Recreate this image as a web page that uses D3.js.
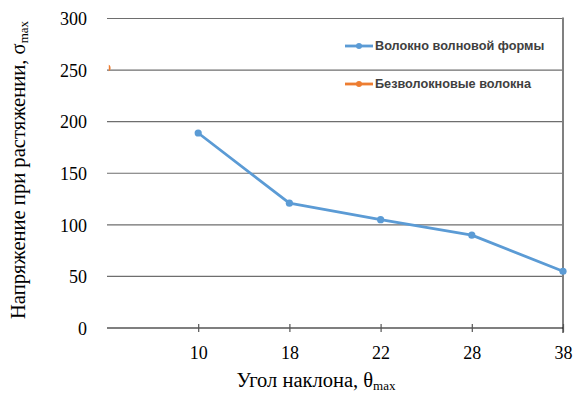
<!DOCTYPE html>
<html><head><meta charset="utf-8">
<script src="https://cdn.jsdelivr.net/npm/d3@7"></script>
<style>body{margin:0;background:#fff}svg{display:block}</style>
</head><body>
<svg id="c" width="580" height="394"></svg>
<script>
const categories = ["", "10", "18", "22", "28", "38"];
const seriesNames = ["Волокно волновой формы", "Безволокновые волокна"];
const wavyFiber = [null, 189, 121, 105, 90, 55];
const noFiber = [252, null, null, null, null, null];
const yTicks = [0, 50, 100, 150, 200, 250, 300];
const colors = ["#5B9BD5", "#ED7D31"];

const svg = d3.select("#c");
const L = 107, R = 563, T = 18.5, B = 328;
const x = d3.scalePoint().domain(categories).range([L, R]);
const y = d3.scaleLinear().domain([0, 300]).range([B, T]);

// gridlines
svg.append("g").selectAll("line").data(yTicks.filter(d => d > 0)).join("line")
  .attr("x1", L).attr("x2", R).attr("y1", d => y(d)).attr("y2", d => y(d))
  .attr("stroke", "#6e6e6e").attr("stroke-width", 1.2);
// right border
svg.append("line").attr("x1", R).attr("x2", R).attr("y1", T - 1).attr("y2", B + 5)
  .attr("stroke", "#808080").attr("stroke-width", 2);

// y axis labels
const yAxis = d3.axisLeft(y).tickValues(yTicks).tickSize(0).tickPadding(0);
const gy = svg.append("g").attr("transform", `translate(${L - 20},0)`).call(yAxis);
gy.select(".domain").remove();
gy.selectAll("text").attr("font-family", "Liberation Serif, Times New Roman, serif")
  .attr("font-size", 18).attr("fill", "#000").attr("dy", "0.35em");

// x axis
const xAxis = d3.axisBottom(x).tickValues(categories.slice(1)).tickSizeInner(4).tickSizeOuter(0).tickPadding(14);
const gx = svg.append("g").attr("transform", `translate(0,${B})`).call(xAxis);
gx.select(".domain").attr("stroke", "#000").attr("stroke-width", 1.2).attr("d", `M${L},0H${R}`);
gx.selectAll(".tick line").attr("y1", -4).attr("y2", 4).attr("stroke", "#555").attr("stroke-width", 1.2);
gx.selectAll("text").attr("font-family", "Liberation Serif, Times New Roman, serif")
  .attr("font-size", 18).attr("fill", "#000");

// clip
svg.append("clipPath").attr("id", "pc").append("rect")
  .attr("x", L + 1.8).attr("y", 0).attr("width", R - L + 6).attr("height", B + 6);

const plot = svg.append("g").attr("clip-path", "url(#pc)");
[wavyFiber, noFiber].forEach((vals, i) => {
  const pts = categories.map((c, j) => ({c, v: vals[j]})).filter(d => d.v != null);
  plot.append("path").datum(pts)
    .attr("d", d3.line().x(d => x(d.c)).y(d => y(d.v)))
    .attr("fill", "none").attr("stroke", colors[i]).attr("stroke-width", 2.8)
    .attr("stroke-linejoin", "round");
  plot.selectAll(null).data(pts).join("circle")
    .attr("cx", d => x(d.c)).attr("cy", d => y(d.v)).attr("r", 3.6)
    .attr("fill", colors[i]);
});

// legend
const lg = svg.append("g");
const legY = [46, 84];
seriesNames.forEach((n, i) => {
  const g = lg.append("g").attr("transform", `translate(345,${legY[i]})`);
  g.append("line").attr("x1", 0).attr("x2", 28).attr("stroke", colors[i]).attr("stroke-width", 2.8);
  g.append("circle").attr("cx", 14).attr("r", 3).attr("fill", colors[i]);
  g.append("text").attr("x", 30).attr("dy", "0.35em").text(n)
    .attr("font-family", "Liberation Sans, Arial, sans-serif").attr("font-size", 12.7)
    .attr("font-weight", "bold").attr("fill", "#404040");
});

// axis titles
const xt = svg.append("text").attr("x", 316).attr("y", 387).attr("text-anchor", "middle")
  .attr("font-family", "Liberation Serif, Times New Roman, serif").attr("font-size", 20.5).attr("fill", "#000");
xt.append("tspan").text("Угол наклона, θ");
xt.append("tspan").text("max").attr("font-size", 13).attr("dy", 3);

const yt = svg.append("text").attr("transform", "translate(25,170) rotate(-90)").attr("text-anchor", "middle")
  .attr("font-family", "Liberation Serif, Times New Roman, serif").attr("font-size", 20.6).attr("fill", "#000");
yt.append("tspan").text("Напряжение при растяжении, σ");
yt.append("tspan").text("max").attr("font-size", 13).attr("dy", 3);
</script>
</body></html>
